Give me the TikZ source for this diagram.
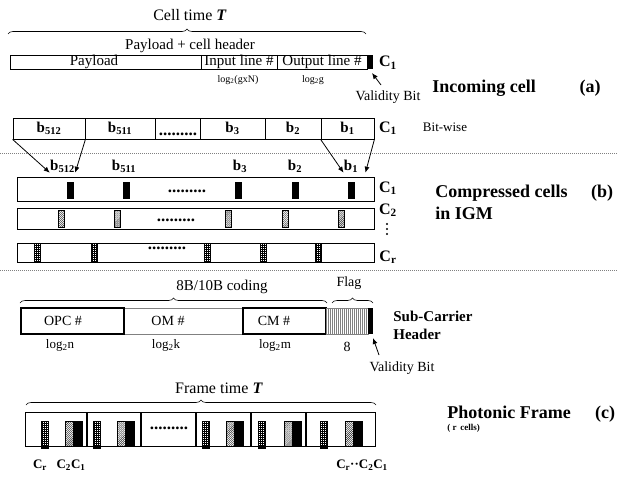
\documentclass[tikz,border=0pt]{standalone}
\usepackage{fontspec}
\setmainfont{Liberation Serif}
\usetikzlibrary{arrows.meta,decorations.pathreplacing,patterns.meta,positioning}
\newcommand{\fsz}[1]{\fontsize{#1}{#1}\selectfont}

\begin{document}
\begin{tikzpicture}[x=1pt,y=-1pt,>={Latex[length=6pt,width=5pt]},line width=0.8pt,
  txt/.style={inner sep=0pt,font=\fsz{15}},
  small/.style={inner sep=0pt,font=\fsz{11}},
  ttl/.style={inner sep=0pt,anchor=west,font=\fsz{18}\bfseries},
  clbl/.style={inner sep=0pt,font=\fsz{16}\bfseries},
  blbl/.style={inner sep=0pt,font=\fsz{15}\bfseries},
  bitbox/.style={draw,inner sep=0pt,minimum height=21pt,font=\fsz{15}\bfseries},
  dots/.style={inner sep=0pt,font=\fsz{17}\bfseries},
  blackbar/.style={fill=black},
  hatchbar/.style={draw,line width=0.4pt,pattern={Lines[angle=45,distance=1.4pt,line width=0.4pt]},pattern color=black!85},
  gridbar/.style={draw,line width=0.4pt,pattern={Hatch[angle=0,distance=2pt,line width=0.35pt]}},
  brc/.style={decorate,decoration={brace,amplitude=5pt},line width=0.6pt},
  sepline/.style={gray,line width=0.5pt,dash pattern=on 1pt off 1pt}]
  \useasboundingbox (0,0) rectangle (617,489);

  % (a) incoming cell
  \node[txt,font=\fsz{16}] (celltime) at (190,15) {Cell time \textbf{\textit{T}}};
  \draw[brc] (8,34) -- (366,34);
  \node[txt] (hdr) at (190,46) {Payload + cell header};
  \draw (10,55) rectangle (367,69);
  \draw (201,55) -- (201,69) (277,55) -- (277,69);
  \fill[blackbar] (368,55) rectangle (373,69);
  \node[txt] (pay) at (94,62) {Payload};
  \node[txt] (inl) at (239,62) {Input line \#};
  \node[txt] (outl) at (322,62) {Output line \#};
  \node[small,font=\fsz{10}] (loginl) at (238,80) {log\textsubscript{2}(gxN)};
  \node[small,font=\fsz{10}] (logoutl) at (313,80) {log\textsubscript{2}g};
  \node[clbl] (cina) at (388,63) {C\textsubscript{1}};
  \node[txt,font=\fsz{14}] (vbita) at (388,97) {Validity Bit};
  \coordinate (vtaila) at (381,85);
  \coordinate (vtipa) at (372,73);
  \draw[->] (vtaila) -- (vtipa);
  \node[ttl] (incoming) at (432,88) {Incoming cell};
  \node[ttl,anchor=center] (taga) at (590,88) {(a)};

  % bit-wise split
  \node[bitbox,minimum width=72pt] (bw512) at (49,128.5) {b\textsubscript{512}};
  \node[bitbox,minimum width=70pt] (bw511) at (120,128.5) {b\textsubscript{511}};
  \node[bitbox,minimum width=45pt] (bwdot) at (177.5,128.5) {};
  \node[bitbox,minimum width=65pt] (bw3) at (232.5,128.5) {b\textsubscript{3}};
  \node[bitbox,minimum width=56pt] (bw2) at (293,128.5) {b\textsubscript{2}};
  \node[bitbox,minimum width=53pt] (bw1) at (347.5,128.5) {b\textsubscript{1}};
  \node[dots] (bwdots) at (178,134) {.........};
  \node[clbl] (cbw) at (388,128) {C\textsubscript{1}};
  \node[small,font=\fsz{13}] (bitwise) at (445,127) {Bit-wise};

  \draw[sepline] (0,153) -- (617,153);

  % (b) compressed cells
  \node[blbl] (cb512) at (62.5,166) {b\textsubscript{512}};
  \node[blbl] (cb511) at (124,166) {b\textsubscript{511}};
  \node[blbl] (cb3) at (240,166) {b\textsubscript{3}};
  \node[blbl] (cb2) at (295,166) {b\textsubscript{2}};
  \node[blbl] (cb1) at (351,166) {b\textsubscript{1}};
  \draw[->] (bw512.south west) -- (cb512.south west);
  \draw[->] (bw512.south east) -- (cb512.south east);
  \draw[->] (bw1.south west) -- (cb1.south west);
  \draw[->] (bw1.south east) -- ([xshift=7pt]cb1.south east);

  \draw (17,177) rectangle (374,201);
  \foreach \x in {67,123,235,292,348}
    \fill[blackbar] (\x,182) rectangle (\x+7,199);
  \node[dots] (dotsc1) at (187,191) {.........};
  \draw (17,208) rectangle (374,229);
  \foreach \x in {58,114,225,282,338}
    \draw[hatchbar] (\x,210.5) rectangle (\x+6.5,227);
  \node[dots] (dotsc2) at (176,220) {.........};
  \draw (17,243) rectangle (374,262);
  \foreach \x in {34,91,204,260,315}
    \draw[gridbar] (\x,243) rectangle (\x+6,261);
  \node[dots] (dotscr) at (167,248) {.........};

  \node[clbl] (cc1) at (388,188) {C\textsubscript{1}};
  \node[clbl] (cc2) at (388,210) {C\textsubscript{2}};
  \foreach \y in {224,229,234}
    \fill (387,\y) circle (1.1);
  \node[clbl] (ccr) at (388,257) {C\textsubscript{r}};
  \node[ttl] (compr) at (435,193) {Compressed cells};
  \node[ttl] (igm) at (435,213) {in IGM};
  \node[ttl,anchor=center] (tagb) at (602,193) {(b)};

  \draw[sepline] (0,270) -- (617,270);

  % sub-carrier header
  \node[txt] (coding) at (222,287) {8B/10B coding};
  \draw[brc] (20,303) -- (327,303);
  \node[txt,font=\fsz{14}] (flag) at (349,283) {Flag};
  \draw[brc] (332,303) -- (373,303);
  \draw[gray,line width=0.6pt] (124,308) rectangle (243,334);
  \draw[line width=1.3pt] (21,308) rectangle (124,334);
  \draw[line width=1.3pt] (243,308) rectangle (326,334);
  \draw[gray,line width=0.5pt,pattern={Lines[angle=90,distance=2pt,line width=0.4pt]},pattern color=gray]
    (326,308) rectangle (368,334);
  \fill[blackbar] (368,308) rectangle (373,334);
  \node[txt,font=\fsz{14}] (opc) at (63,321) {OPC \#};
  \node[txt,font=\fsz{14}] (om) at (168,321) {OM \#};
  \node[txt,font=\fsz{14}] (cm) at (274,321) {CM \#};
  \node[txt,font=\fsz{13}] (logn) at (60,345) {log\textsubscript{2}n};
  \node[txt,font=\fsz{13}] (logk) at (166,345) {log\textsubscript{2}k};
  \node[txt,font=\fsz{13}] (logm) at (275,345) {log\textsubscript{2}m};
  \node[txt,font=\fsz{14}] (eight) at (347,347) {8};
  \coordinate (vtailb) at (379,355);
  \coordinate (vtipb) at (373,338);
  \draw[->] (vtailb) -- (vtipb);
  \node[txt,font=\fsz{14}] (vbitb) at (402,368) {Validity Bit};
  \node[ttl,font=\fsz{15}\bfseries] (subc) at (393,316) {Sub-Carrier};
  \node[ttl,font=\fsz{15}\bfseries] (subh) at (393,334) {Header};

  % (c) photonic frame
  \node[txt,font=\fsz{16}] (frtime) at (219,388) {Frame time \textbf{\textit{T}}};
  \draw[brc] (26,405) -- (376,405);
  \draw (25,412) rectangle (375,446);
  \draw[line width=1.2pt] (87,412) -- (87,446) (141,412) -- (141,446) (196,412) -- (196,446)
    (251,412) -- (251,446) (306,412) -- (306,446);
  \foreach \g/\h in {41/65,93/117,202/226,258/284,320/345} {
    \draw[gridbar] (\g,421) rectangle (\g+7.5,448);
    \draw[hatchbar] (\h,421) rectangle (\h+8.5,446);
    \fill[blackbar] (\h+8.5,421) rectangle (\h+17.5,446);
  }
  \node[dots] (dotsfr) at (169,428) {.........};
  \node[blbl,font=\fsz{13}\bfseries] (frcr) at (40,465) {C\textsubscript{r}};
  \node[blbl,font=\fsz{13}\bfseries] (frc21) at (71,465) {C\textsubscript{2}C\textsubscript{1}};
  \node[blbl,font=\fsz{13}\bfseries] (frcall) at (362,465) {C\textsubscript{r}··C\textsubscript{2}C\textsubscript{1}};
  \node[ttl] (photonic) at (447,412) {Photonic Frame};
  \node[ttl,anchor=center] (tagc) at (605,414) {(c)};
  \node[ttl,font=\fsz{9}\bfseries] (rcells) at (447,428) {( r\, cells)};
\end{tikzpicture}
\end{document}
